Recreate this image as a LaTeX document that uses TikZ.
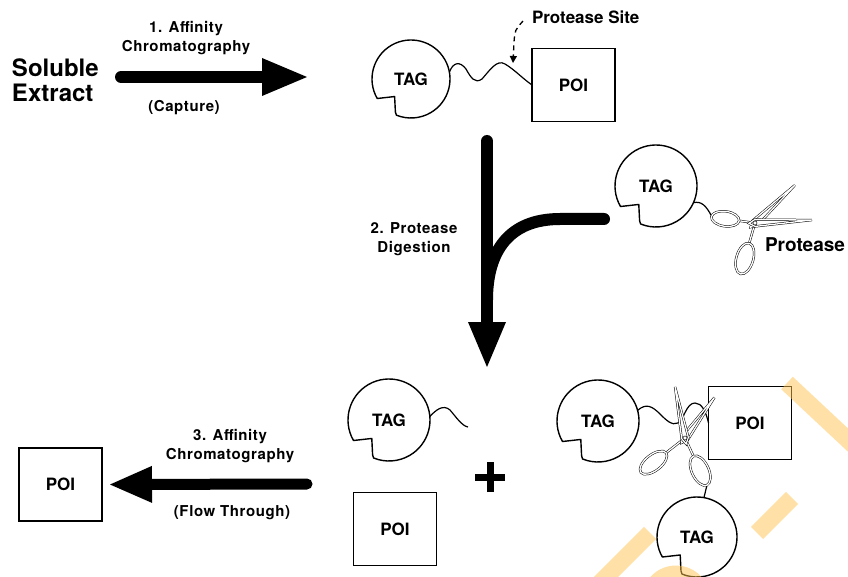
\documentclass[tikz,border=0pt]{standalone}
\usepackage{fontspec}
\setmainfont{TeX Gyre Heros}
\newfontfamily\lblfont[LetterSpace=4]{TeX Gyre Heros}
\usetikzlibrary{calc,arrows.meta}

\tikzset{
  every node/.style={inner sep=0pt, outer sep=0pt},
  tagtext/.style={circle, font=\bfseries\fontsize{17}{17}\selectfont},
  tagline/.style={draw=black, line width=1.4pt, line join=round},
  poibox/.style={draw=black, line width=1.8pt, minimum width=83pt, minimum height=73pt,
                 font=\bfseries\fontsize{17}{17}\selectfont},
  steplabel/.style={align=center, font=\lblfont\bfseries\fontsize{15}{18.5}\selectfont},
  bigtext/.style={align=left, font=\bfseries\fontsize{24}{25}\selectfont},
  wire/.style={line width=1.2pt},
  bigarrow/.style={line width=12pt, line cap=round,
                   -{Triangle[length=45pt,width=38pt,line width=0pt]}},
  scis/.style={draw=black, line width=0.5pt, double=white, double distance=1.3pt, fill=white},
  watermark/.style={line width=17pt, draw={rgb,255:red,255;green,196;blue,80}, opacity=0.5},
}

% TAG: a circle with a square bite out of its lower left side
\newcommand\tagnode[4]{%
  \node[tagtext, minimum size=#4*2pt] (#1) at (#2,#3) {TAG};
  \draw[tagline] ($(#1.center)+(150:#4)$) arc[start angle=150, end angle=472, radius=#4]
    -- ($(#1.center)+(-0.40*#4,0.85*#4)$) -- ($(#1.center)+(-0.42*#4,0.45*#4)$) -- cycle;
}

% one half of a pair of scissors: pivot, blade angle, blade length,
% handle angle, ring distance, ring half-length, ring half-width
\newcommand\scishalf[7]{%
  \draw[scis] ($(#1)+(#4:#5-#6)$) -- (#1);
  \draw[scis, shift={($(#1)+(#4:#5)$)}, rotate=-#4] (0,0) ellipse [x radius=#6, y radius=#7];
  \draw[scis] ($(#1)+(#2+90:3.4)$) -- ($(#1)+(#2:#3)$) -- ($(#1)+(#2-90:3.4)$)
    -- ($(#1)+(#2+180:6)$) -- cycle;
}

\begin{document}
\begin{tikzpicture}[x=1pt,y=-1pt]
\useasboundingbox (0,0) rectangle (848,577);
\clip (0,0) rectangle (848,577);
\fill[white] (0,0) rectangle (848,577);

% ---- step 1: capture ----
\node[bigtext, anchor=west] (ext) at (12,80) {Soluble\\Extract};
\coordinate (a1s) at (121,77);
\coordinate (a1e) at (307,77);
\draw[bigarrow] (a1s) -- (a1e);
\node[steplabel] (l1) at (186,38) {1. Affinity\\Chromatography};
\node[steplabel] (l1b) at (184,108) {(Capture)};

\tagnode{tagA}{411}{79}{39}
\node[poibox] (poiA) at (573.5,85) {POI};
\draw[wire] (tagA.10) .. controls (453,62) and (460,61) .. (466,69)
  .. controls (471,78) and (475,84) .. (482,79)
  .. controls (490,70) and (497,59) .. (505,64)
  .. controls (515,70) and (522,78) .. (poiA.west);

\node[font=\bfseries\fontsize{17}{17}\selectfont, anchor=west] (site) at (532,17) {Protease Site};
\coordinate (sitept) at (523,21);
\coordinate (sitetip) at (513,63);
\draw[line width=1.3pt, dash pattern=on 5pt off 4pt, -{Triangle[length=7pt,width=7pt]}]
  (sitept) .. controls (515,30) .. (514,42) -- (sitetip);

% ---- step 2: protease digestion ----
\tagnode{tagM}{656}{186}{41}
\coordinate (c2s) at (604,219);
\draw[line width=12pt, line cap=round] (c2s) -- (560,219) .. controls (510,219) and (487,250) .. (487,300);
\coordinate (a2s) at (487,141);
\coordinate (a2e) at (487,367);
\draw[bigarrow] (a2s) -- (a2e);
\node[steplabel] (l2) at (414,239) {2. Protease\\Digestion};

\coordinate (ringM) at (712,217);
\draw[wire] (tagM.-24) .. controls (701,201) and (706,205) .. (ringM);
\coordinate (pvM) at (755,223);
\scishalf{pvM}{316.5}{55}{106}{37}{16}{8.5}
\scishalf{pvM}{-3}{57}{188}{30}{14}{7.5}
\draw[line width=0.5pt, fill=white] (pvM) circle[radius=2];
\node[font=\bfseries\fontsize{19}{19}\selectfont, anchor=west] (prot) at (765,245) {Protease};

% ---- step 3: flow through ----
\node[poibox] (poiL) at (60.5,484.5) {POI};
\coordinate (a3s) at (307,484);
\draw[bigarrow, line width=11pt, -{Triangle[length=42pt,width=37pt,line width=0pt]}]
  (a3s) -- ([xshift=8pt]poiL.east);
\node[steplabel] (l3) at (230,446) {3. Affinity\\Chromatography};
\node[steplabel] (l3b) at (232,513) {(Flow Through)};

\tagnode{tagB}{389}{420}{41}
\coordinate (tagBend) at (468,427);
\draw[wire] (tagB.5) .. controls (436,410) and (443,404) .. (450,410)
  .. controls (456,417) and (462,426) .. (tagBend);
\coordinate (plus) at (490,477);
\draw[line width=7pt] ([xshift=-15pt]plus) -- ([xshift=15pt]plus);
\draw[line width=7pt] ([yshift=-15pt]plus) -- ([yshift=15pt]plus);
\node[poibox] (poiB) at (395,529) {POI};

\tagnode{tagR}{598}{421}{41}
\node[poibox] (poiR) at (750,423) {POI};
\tagnode{tagD}{697}{537}{40}
\draw[wire] (tagR.15) .. controls (646,403) and (652,406) .. (660,414)
  .. controls (666,420) and (672,426) .. (678,423)
  .. controls (684,420) and (686,403) .. (695,403)
  .. controls (702,403) and (706,412) .. (poiR.west);
\coordinate (ringR) at (707,485);
\draw[wire] (ringR) -- (tagD.80);
\coordinate (pvR) at (685,438);
\scishalf{pvR}{306}{50}{142}{40}{16}{8}
\scishalf{pvR}{259}{52}{65}{36}{16}{8.5}
\draw[line width=0.5pt, fill=white] (pvR) circle[radius=2];

% ---- faint stamp stripes ----
\draw[watermark] (787,383) -- (880,470);
\draw[watermark] (792,498) -- (757,533);
\draw[watermark] (650,533) -- (600,583);
\draw[watermark] (676,600) ++(220:26) arc[start angle=220, end angle=320, radius=26];
\end{tikzpicture}
\end{document}
